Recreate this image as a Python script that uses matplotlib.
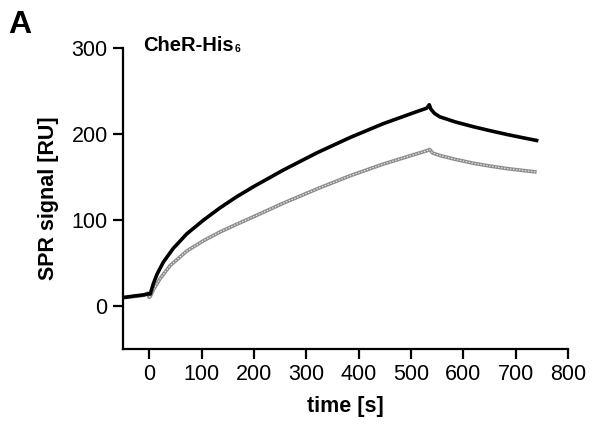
import matplotlib
matplotlib.use("Agg")
import matplotlib.pyplot as plt
import numpy as np

plt.rcParams['font.family'] = ['Liberation Sans', 'DejaVu Sans']

# sensorgram (time in s, signal in RU)
t_black = [-50, -30, -10, -2, 2, 8, 15, 27, 46, 72, 104, 135, 167, 200,
           256, 320, 384, 447, 511, 530, 535, 538, 545, 555, 585, 619, 650, 683, 715, 740]
sig_black = [9.7, 11.5, 13, 14, 14, 26, 37, 51, 67, 84, 100, 114, 127, 139,
             158, 178, 196, 212, 226, 230, 234, 229, 224, 220, 214, 208.5, 204, 199.5, 195.5, 192.5]

t_gray = [-50, -30, -10, -3, 0, 2, 8, 21, 40, 72, 104, 135, 167, 200,
          256, 320, 384, 447, 511, 530, 536, 541, 555, 585, 619, 650, 683, 715, 740]
sig_gray = [10, 11, 12.5, 15, 10, 11, 19, 32, 47, 64, 76, 86, 95, 104,
            119.5, 136, 151.5, 165, 177, 180.5, 182, 178, 175, 170.5, 166, 162.8, 159.8, 157.5, 155.8]

fig = plt.figure(figsize=(5.94, 4.32), dpi=100)
ax = fig.add_axes([123/594, 1-349/432, 445/594, 301/432])

ax.plot(t_gray, sig_gray, color='#8c8c8c', lw=2.6, solid_capstyle='butt', solid_joinstyle='round')
ax.plot(t_gray, sig_gray, color='#e6e6e6', lw=0.9, linestyle=(0, (1.2, 1.2)))
ax.plot(t_black, sig_black, color='black', lw=2.6, solid_joinstyle='round')

ax.set_xlim(-50, 800)
ax.set_ylim(-50, 300)
ax.set_xticks(np.arange(0, 801, 100))
ax.set_yticks([0, 100, 200, 300])

ax.spines['top'].set_visible(False)
ax.spines['right'].set_visible(False)
for s in ['left', 'bottom']:
    ax.spines[s].set_linewidth(1.6)
ax.tick_params(direction='out', length=7, width=1.6, labelsize=15.5, pad=4)

ax.set_xlabel('time [s]', fontsize=15.5, fontweight='bold', labelpad=8)
ax.set_ylabel('SPR signal [RU]', fontsize=15.5, fontweight='bold', labelpad=9)

# panel title with a small subscript, as in the figure
title = fig.text(143/594, 1-51/432, 'CheR-His', fontsize=14.5, fontweight='bold',
                 va='baseline', ha='left')
fig.text(8/594, 1-33/432, 'A', fontsize=23, fontweight='bold', va='baseline', ha='left')
fig.canvas.draw()
bb = title.get_window_extent()
fig.text((bb.x1 + 1) / fig.bbox.width, (bb.y0 + 1) / fig.bbox.height, '6',
         fontsize=7.5, fontweight='bold', va='bottom', ha='left')

fig.savefig('out.png', dpi=100)
